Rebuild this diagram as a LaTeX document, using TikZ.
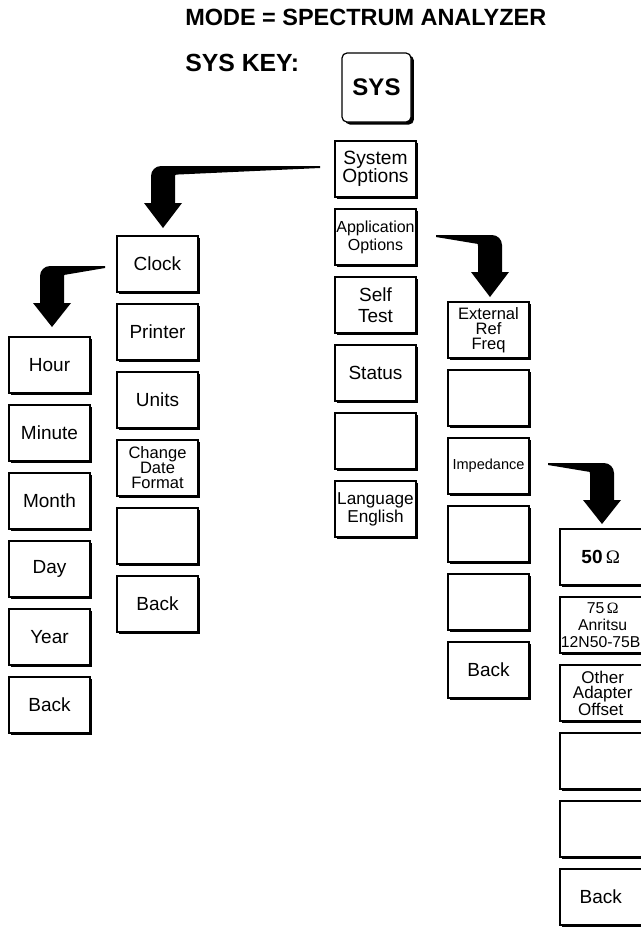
\documentclass[tikz,border=0pt]{standalone}
\usepackage{fontspec}
\setmainfont{Liberation Sans}
\newfontfamily\omegafont{Liberation Serif}
\usetikzlibrary{calc,shadows}
\newcommand\fsz[2]{\fontsize{#1}{#2}\selectfont}
\newcommand\menuarrow[3]{%
 \fill[black] let \p1=(#1), \p2=(#2), \n1={#3} in
  (\x1,\y1) -- ({\x2+\n1*1.5pt},\y1)
  .. controls ({\x2+\n1*5.6pt},\y1) and ({\x2+\n1*9pt},{\y1-3.4pt}) .. ({\x2+\n1*9pt},{\y1-7.5pt})
  -- ({\x2+\n1*9pt},{\y1-27.75pt})
  -- ({\x2+\n1*14.25pt},{\y1-27.75pt})
  -- (\x2,\y2)
  -- ({\x2-\n1*14.25pt},{\y1-27.75pt})
  -- ({\x2-\n1*9pt},{\y1-27.75pt})
  -- ({\x2-\n1*9pt},{\y1-8.25pt})
  .. controls ({\x2-\n1*9pt},{\y1-6.4pt}) .. ({\x2-\n1*10.9pt},{\y1-6.4pt})
  -- (\x1,{\y1-1.5pt}) -- cycle;}
\tikzset{
  menubox/.style={draw=black, line width=0.9pt, fill=white,
    minimum width=60.75pt, minimum height=42pt, inner sep=0pt, outer sep=0pt,
    align=center, font=\fsz{14.25pt}{15pt},
    drop shadow={shadow xshift=1.7pt, shadow yshift=-1.7pt, opacity=1, fill=black}},
  widebox/.style={menubox, minimum width=64pt},
  keybox/.style={draw=black, line width=0.9pt, fill=white, rounded corners=3.75pt,
    minimum width=51.75pt, minimum height=51.75pt, inner sep=0pt, outer sep=0pt,
    font=\bfseries\fsz{18pt}{20pt},
    drop shadow={shadow xshift=2.2pt, shadow yshift=-1.9pt, opacity=1, fill=black}},
  titletext/.style={anchor=base west, inner sep=0pt, font=\bfseries\fsz{17.6pt}{19pt}},
}
\begin{document}
\begin{tikzpicture}[x=0.75pt,y=-0.75pt]
\useasboundingbox (0,0) rectangle (640,929);
\fill[white] (0,0) rectangle (640,929);
% titles
\node[titletext] (title) at (185,25) {MODE = SPECTRUM ANALYZER};
\node[titletext, font=\bfseries\fsz{18.6pt}{20pt}] (keylabel) at (185,71) {SYS KEY:};
\node[keybox] (syskey) at (376.5,87.5) {SYS};
% system column
\node[menubox, font=\fsz{14.4pt}{13.5pt}] (sysopt) at (375.5,169) {System\\Options};
\node[menubox, font=\fsz{12pt}{13.3pt}] (appopt) at (375.5,237) {Application\\Options};
\node[menubox, font=\fsz{14.25pt}{15.75pt}] (selftest) at (375.5,305) {Self\\Test};
\node[menubox] (status) at (375.5,373) {Status};
\node[menubox] (blankC) at (375.5,441) {};
\node[menubox, font=\fsz{12.9pt}{13.5pt}] (language) at (375.5,509) {Language\\English};
% clock column
\node[menubox] (clock) at (157.5,264) {Clock};
\node[menubox] (printer) at (157.5,332) {Printer};
\node[menubox] (units) at (157.5,400) {Units};
\node[menubox, font=\fsz{12.4pt}{11.25pt}] (changedate) at (157.5,468) {Change\\Date\\Format};
\node[menubox] (blankB) at (157.5,536) {};
\node[menubox] (backB) at (157.5,604) {Back};
% hour column
\node[menubox] (hour) at (49.5,365) {Hour};
\node[menubox] (minute) at (49.5,433) {Minute};
\node[menubox] (month) at (49.5,501) {Month};
\node[menubox] (day) at (49.5,569) {Day};
\node[menubox] (year) at (49.5,637) {Year};
\node[menubox] (backA) at (49.5,705) {Back};
% application column
\node[menubox, font=\fsz{12.4pt}{11.25pt}] (extref) at (488.5,330) {External\\Ref\\Freq};
\node[menubox] (blankD) at (488.5,398) {};
\node[menubox, font=\fsz{10.9pt}{12pt}] (imped) at (488.5,466) {Impedance};
\node[menubox] (blankE) at (488.5,534) {};
\node[menubox] (blankF) at (488.5,602) {};
\node[menubox] (backD) at (488.5,670) {Back};
% impedance column (cut off by the right margin)
\node[widebox, font=\bfseries\fsz{14.25pt}{15pt}] (ohm50) at (602.7,557) {50\,{\omegafont\mdseries Ω}\hspace*{3pt}};
\node[widebox, font=\fsz{11.8pt}{12.75pt}] (ohm75) at (602.7,625) {75\,{\omegafont Ω}\\Anritsu\\12N50-75B\hspace*{3pt}};
\node[widebox, font=\fsz{12.75pt}{11.25pt}] (otheradapter) at (602.7,693) {Other\\Adapter\\Offset\hspace*{3pt}};
\node[widebox] (blankG) at (602.7,761) {};
\node[widebox] (blankH) at (602.7,829) {};
\node[widebox, align=left] (backE) at (602.7,897) {Back\hspace*{3pt}};
% arrows
\menuarrow{$(sysopt.west)+(-15,-3)$}{$(clock.north)+(5.5,-8)$}{-1}
\menuarrow{$(clock.west)+(-12,2)$}{$(hour.north)+(2.5,-10)$}{-1}
\menuarrow{$(appopt.east)+(20,-2)$}{$(extref.north)+(1.5,-5)$}{1}
\menuarrow{$(imped.east)+(19,-3)$}{$(ohm50.north)+(-0.7,-5)$}{1}
\end{tikzpicture}
\end{document}
